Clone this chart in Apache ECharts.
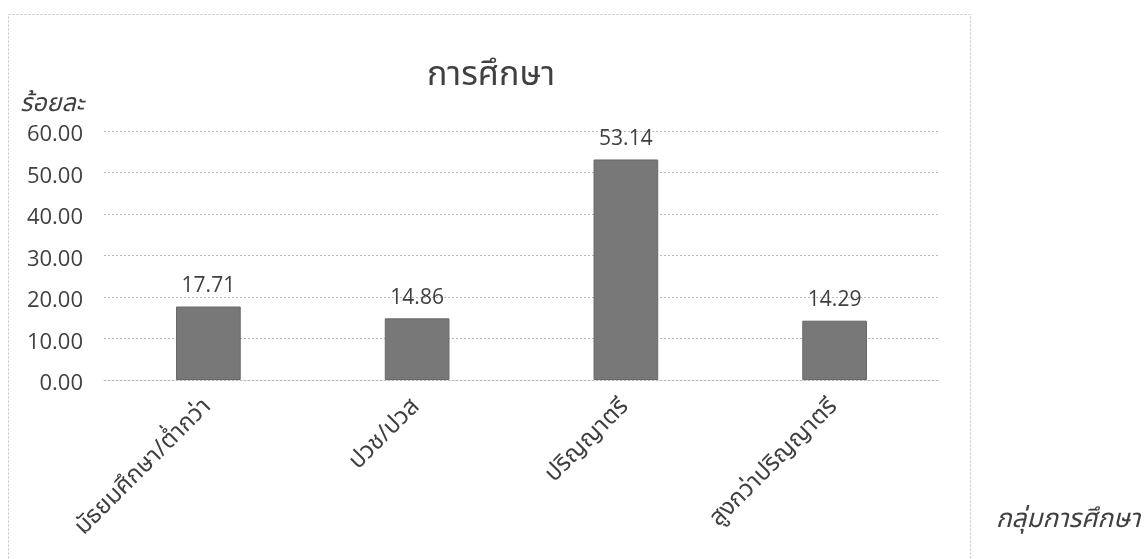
<!DOCTYPE html>
<html>
<head>
<meta charset="utf-8">
<script src="https://cdn.jsdelivr.net/npm/echarts@6/dist/echarts.min.js"></script>
<style>
  html, body { margin: 0; padding: 0; background: #ffffff; }
  #chart { width: 1147px; height: 559px; }
</style>
</head>
<body>
<div id="chart"></div>
<script>
// Education levels and their share (percent)
const categories = ['มัธยมศึกษา/ต่ำกว่า', 'ปวช/ปวส', 'ปริญญาตรี', 'สูงกว่าปริญญาตรี'];
const percentValues = [17.71, 14.86, 53.14, 14.29];
const yTicks = [0, 10, 20, 30, 40, 50, 60];

const chartTitle = 'การศึกษา';
const yAxisName = 'ร้อยละ';
const xAxisName = 'กลุ่มการศึกษา';

const FONT = '"Noto Sans Thai", "Open Sans", "Noto Sans", sans-serif';
const NUM_FONT = '"Open Sans", "Noto Sans", sans-serif';
const TEXT = '#404040';

const chart = echarts.init(document.getElementById('chart'), null, { renderer: 'canvas' });

chart.setOption({
  backgroundColor: '#ffffff',
  animation: false,
  title: {
    text: chartTitle,
    left: 486,
    top: 56,
    textAlign: 'center',
    textStyle: { fontFamily: FONT, fontSize: 34, fontWeight: 'normal', color: TEXT }
  },
  graphic: [
    {
      type: 'rect',
      shape: { x: 8.5, y: 14.5, width: 962, height: 560 },
      style: { fill: 'none', stroke: '#c4c4c4', lineWidth: 1, lineDash: [2, 2] },
      silent: true
    },
    {
      type: 'text',
      left: 20,
      top: 93,
      style: { text: yAxisName, font: 'italic 25px ' + FONT, fill: TEXT }
    },
    {
      type: 'text',
      left: 996,
      top: 509,
      style: { text: xAxisName, font: 'italic 26px ' + FONT, fill: TEXT }
    }
  ],
  grid: { left: 104, right: 208, top: 131, bottom: 179, containLabel: false },
  xAxis: {
    type: 'category',
    data: categories,
    axisLine: { show: true, lineStyle: { color: '#b8b8b8', type: [2, 2], width: 1 } },
    axisTick: { show: false },
    axisLabel: {
      rotate: 45,
      margin: 24,
      interval: 0,
      fontFamily: FONT,
      fontSize: 24,
      color: TEXT
    }
  },
  yAxis: {
    type: 'value',
    min: yTicks[0],
    max: yTicks[yTicks.length - 1],
    interval: yTicks[1] - yTicks[0],
    axisLine: { show: false },
    axisTick: { show: false },
    splitLine: { show: true, lineStyle: { color: '#b8b8b8', type: [2, 2], width: 1 } },
    axisLabel: {
      margin: 21,
      color: TEXT,
      formatter: v => '{n|' + v.toFixed(2) + '}',
      rich: {
        n: { fontFamily: NUM_FONT, fontSize: 22, color: TEXT, padding: [8, 0, 0, 0] }
      }
    }
  },
  series: [{
    type: 'bar',
    data: percentValues,
    barWidth: '31%',
    itemStyle: { color: '#787878', borderColor: '#686868', borderWidth: 1 },
    label: {
      show: true,
      position: 'top',
      distance: 10,
      fontFamily: NUM_FONT,
      fontSize: 21,
      color: TEXT,
      formatter: p => p.value.toFixed(2)
    }
  }]
});
</script>
</body>
</html>
